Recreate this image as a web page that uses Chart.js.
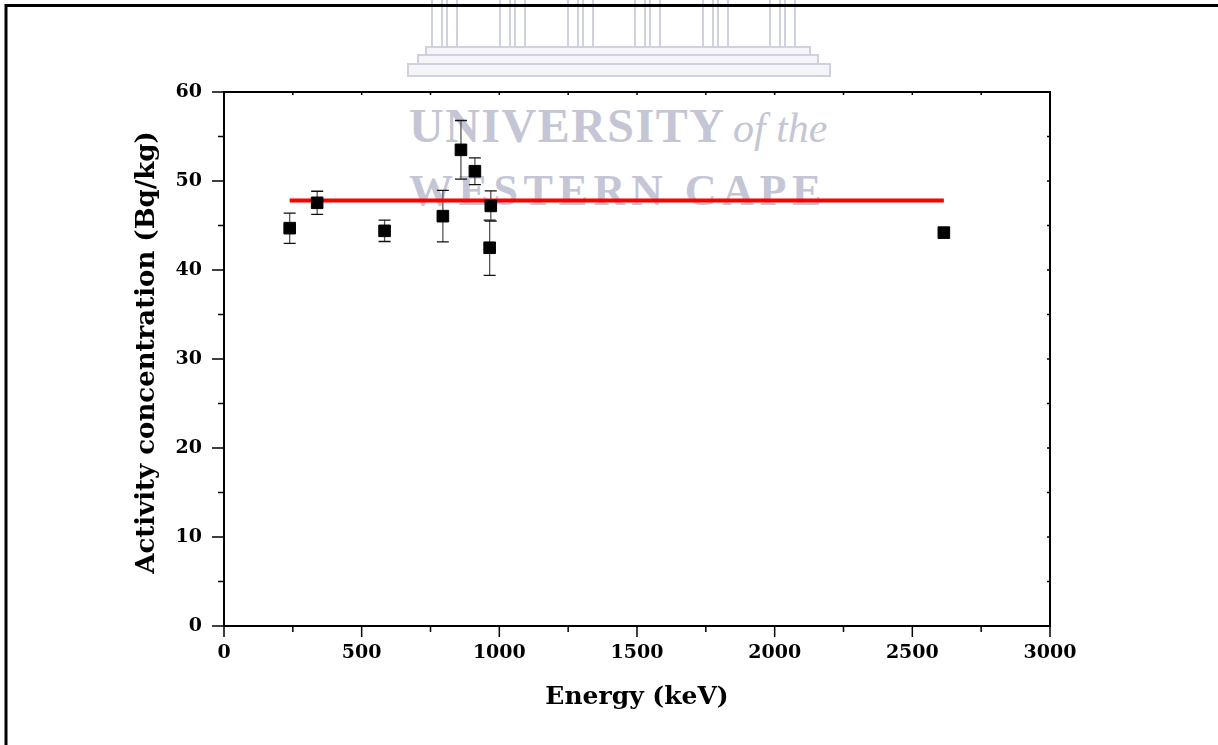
<!DOCTYPE html>
<html>
<head>
<meta charset="utf-8">
<script src="https://cdn.jsdelivr.net/npm/chart.js"></script>
<style>
  html, body { margin: 0; padding: 0; background: #fff; }
  #wrap { position: relative; width: 1218px; height: 745px; overflow: hidden; }
  .wm { position: absolute; color: #c4c6d5; font-family: "Liberation Serif", serif; font-weight: bold; white-space: nowrap; line-height: 1; }
  .pillar { position: absolute; top: -2px; height: 48px; width: 8px; border: 2px solid #cfd1de; border-top: none; }
  .step { position: absolute; border: 2px solid #cfd1de; background: #f5f5f9; }
  canvas { position: absolute; left: 0; top: 0; }
</style>
</head>
<body>
<div id="wrap">
  <div id="mark"></div>
  <div class="wm" style="left:409px; top:102px; font-size:48px; letter-spacing:1.5px;">UNIVERSITY</div>
  <div class="wm" style="left:733px; top:107px; font-size:42px; font-style:italic; font-weight:normal;">of the</div>
  <div class="wm" style="left:409px; top:169px; font-size:44px; letter-spacing:5.6px;">WESTERN CAPE</div>
  <canvas id="chart" width="1218" height="745"></canvas>
</div>
<script>
// gamma lines (keV) and activity concentration (Bq/kg)
const energies = [238.6, 338.3, 583.2, 794.9, 860.6, 911.2, 964.8, 969.0, 2614.5];
const activity = [44.7, 47.55, 44.4, 46.05, 53.5, 51.1, 42.5, 47.2, 44.2];
const errors = [1.7, 1.3, 1.2, 2.9, 3.3, 1.5, 3.1, 1.7, 0.3];

// average line
const meanX = [238.6, 2614.5];
const meanY = [47.8, 47.8];

const xTicks = [0, 500, 1000, 1500, 2000, 2500, 3000];
const yTicks = [0, 10, 20, 30, 40, 50, 60];

// watermark building (decoration only)
const mark = document.getElementById('mark');
[431, 499, 567, 634, 702, 769].forEach(function (left) {
  for (let k = 0; k < 2; k++) {
    const p = document.createElement('div');
    p.className = 'pillar';
    p.style.left = (left + k * 15) + 'px';
    mark.appendChild(p);
  }
});
[[425, 46, 382, 6], [417, 54, 398, 7], [407, 63, 420, 10]].forEach(function (s) {
  const d = document.createElement('div');
  d.className = 'step';
  d.style.left = s[0] + 'px';
  d.style.top = s[1] + 'px';
  d.style.width = s[2] + 'px';
  d.style.height = s[3] + 'px';
  mark.appendChild(d);
});

const errorBars = {
  id: 'errorBars',
  beforeDatasetsDraw(chart) {
    const { ctx, scales: { x, y } } = chart;
    ctx.save();
    energies.forEach(function (e, i) {
      const px = x.getPixelForValue(e);
      const top = y.getPixelForValue(activity[i] + errors[i]);
      const bot = y.getPixelForValue(activity[i] - errors[i]);
      ctx.lineWidth = 1.3;
      ctx.strokeStyle = '#555';
      ctx.beginPath();
      ctx.moveTo(px, top);
      ctx.lineTo(px, bot);
      ctx.stroke();
      ctx.strokeStyle = '#111';
      ctx.beginPath();
      ctx.moveTo(px - 6, top); ctx.lineTo(px + 6, top);
      ctx.moveTo(px - 6, bot); ctx.lineTo(px + 6, bot);
      ctx.stroke();
    });
    ctx.restore();
  }
};

const frame = {
  id: 'frame',
  afterDraw(chart) {
    const { ctx, chartArea: a, scales: { x, y } } = chart;
    ctx.save();
    ctx.strokeStyle = '#000';
    ctx.lineWidth = 2;
    ctx.strokeRect(a.left, a.top, a.right - a.left, a.bottom - a.top);

    ctx.lineWidth = 1.5;
    ctx.beginPath();
    xTicks.forEach(function (v, i) {
      const px = x.getPixelForValue(v);
      ctx.moveTo(px, a.bottom); ctx.lineTo(px, a.bottom + 11);
      ctx.moveTo(px, a.top); ctx.lineTo(px, a.top + 3);
      if (i < xTicks.length - 1) {
        const mx = x.getPixelForValue((v + xTicks[i + 1]) / 2);
        ctx.moveTo(mx, a.bottom); ctx.lineTo(mx, a.bottom + 6);
        ctx.moveTo(mx, a.top); ctx.lineTo(mx, a.top + 3);
      }
    });
    yTicks.forEach(function (v, i) {
      const py = y.getPixelForValue(v);
      ctx.moveTo(a.left, py); ctx.lineTo(a.left - 12, py);
      ctx.moveTo(a.right, py); ctx.lineTo(a.right - 3, py);
      if (i < yTicks.length - 1) {
        const my = y.getPixelForValue((v + yTicks[i + 1]) / 2);
        ctx.moveTo(a.left, my); ctx.lineTo(a.left - 6, my);
        ctx.moveTo(a.right, my); ctx.lineTo(a.right - 3, my);
      }
    });
    ctx.stroke();

    // page frame
    ctx.lineWidth = 3;
    ctx.beginPath();
    ctx.moveTo(6, 745);
    ctx.lineTo(6, 5.5);
    ctx.lineTo(1218, 5.5);
    ctx.stroke();
    ctx.restore();
  }
};

Chart.defaults.font.family = "'DejaVu Serif', serif";
Chart.defaults.font.weight = 'bold';
Chart.defaults.color = '#000';

new Chart(document.getElementById('chart'), {
  data: {
    datasets: [
      {
        type: 'scatter',
        data: energies.map(function (e, i) { return { x: e, y: activity[i] }; }),
        pointStyle: 'rect',
        pointRadius: 8.2,
        backgroundColor: '#000',
        borderColor: '#000',
        borderWidth: 1
      },
      {
        type: 'line',
        data: meanX.map(function (e, i) { return { x: e, y: meanY[i] }; }),
        borderColor: '#ff0000',
        borderWidth: 4,
        pointRadius: 0,
        fill: false
      }
    ]
  },
  options: {
    responsive: false,
    animation: false,
    layout: { padding: { left: 129, top: 92, right: 168, bottom: 0 } },
    plugins: { legend: { display: false }, tooltip: { enabled: false } },
    scales: {
      x: {
        type: 'linear',
        min: 0,
        max: 3000,
        afterBuildTicks(scale) { scale.ticks = xTicks.map(function (v) { return { value: v }; }); },
        afterFit(scale) { scale.height = 119; },
        grid: { display: false, drawTicks: false },
        border: { display: false },
        ticks: { padding: 16, font: { size: 19, weight: 'bold' }, maxRotation: 0, callback: function (v) { return String(v); } },
        title: { display: true, text: 'Energy (keV)', font: { size: 25, weight: 'bold' }, padding: { top: 0, bottom: 33 } }
      },
      y: {
        type: 'linear',
        min: 0,
        max: 60,
        afterBuildTicks(scale) { scale.ticks = yTicks.map(function (v) { return { value: v }; }); },
        afterFit(scale) { scale.width = 95; },
        grid: { display: false, drawTicks: false },
        border: { display: false },
        ticks: { padding: 22, font: { size: 19, weight: 'bold' }, callback: function (v) { return String(v); } },
        title: { display: true, text: '\u2002Activity concentration (Bq/kg)', font: { size: 26, weight: 'bold' }, padding: { top: 3, bottom: 0 } }
      }
    }
  },
  plugins: [errorBars, frame]
});
</script>
</body>
</html>
